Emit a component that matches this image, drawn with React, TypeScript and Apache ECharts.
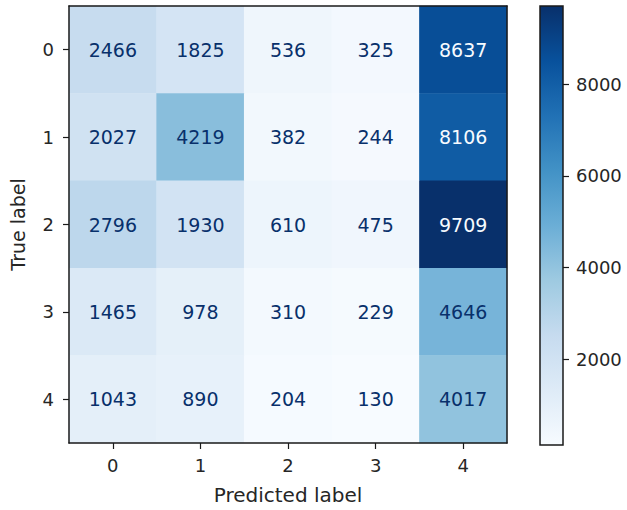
import React, { useEffect, useRef } from "react";
import * as echarts from "echarts";

// Confusion matrix: rows are the true class, columns the predicted class.
const predictedLabels = ["0", "1", "2", "3", "4"];
const trueLabels = ["0", "1", "2", "3", "4"];
const counts: number[][] = [
  [2466, 1825, 536, 325, 8637],
  [2027, 4219, 382, 244, 8106],
  [2796, 1930, 610, 475, 9709],
  [1465, 978, 310, 229, 4646],
  [1043, 890, 204, 130, 4017],
];
const colorbarTicks = [2000, 4000, 6000, 8000];

// matplotlib "Blues" colormap anchors
const bluesStops = [
  "#f7fbff",
  "#deebf7",
  "#c6dbef",
  "#9ecae1",
  "#6baed6",
  "#4292c6",
  "#2171b5",
  "#08519c",
  "#08306b",
];

const FONT = "DejaVu Sans";
const INK = "#262626";
const FRAME = "#1a1a1a";

export default function App() {
  const ref = useRef<HTMLDivElement>(null);

  useEffect(() => {
    document.body.style.margin = "0";
    if (!ref.current) return;
    const chart = echarts.init(ref.current, undefined, { renderer: "svg" });

    const flat = counts.flat();
    const minV = Math.min(...flat);
    const maxV = Math.max(...flat);
    const threshold = (minV + maxV) / 2;

    const cells = counts.flatMap((row, r) =>
      row.map((v, c) => ({
        value: [c, r, v],
        label: { color: v > threshold ? bluesStops[0] : bluesStops[8] },
      }))
    );

    const lineStyle = { color: FRAME, width: 1.5 };
    const tickStyle = { color: FRAME, width: 1.2 };

    const option: echarts.EChartsOption = {
      animation: false,
      textStyle: { fontFamily: FONT },
      grid: [
        { left: 68, top: 6, width: 439, height: 439 },
        { left: 540, top: 6, width: 23, height: 439 },
      ],
      xAxis: [
        {
          type: "category",
          gridIndex: 0,
          position: "bottom",
          data: predictedLabels,
          name: "Predicted label",
          nameLocation: "middle",
          nameGap: 42,
          nameTextStyle: { fontSize: 20, color: INK, fontFamily: FONT },
          axisLine: { show: true, lineStyle },
          axisTick: { show: true, alignWithLabel: true, length: 6, lineStyle: tickStyle },
          axisLabel: { fontSize: 18, color: INK, margin: 13, fontFamily: FONT },
          splitLine: { show: false },
          z: 5,
        },
        {
          type: "category",
          gridIndex: 0,
          position: "top",
          data: predictedLabels,
          axisLine: { show: true, lineStyle },
          axisTick: { show: false },
          axisLabel: { show: false },
          splitLine: { show: false },
          z: 5,
        },
        {
          type: "category",
          gridIndex: 1,
          data: ["colorbar"],
          show: false,
        },
      ],
      yAxis: [
        {
          type: "category",
          gridIndex: 0,
          position: "left",
          inverse: true,
          data: trueLabels,
          name: "True label",
          nameLocation: "middle",
          nameGap: 42,
          nameTextStyle: { fontSize: 19, color: INK, fontFamily: FONT },
          axisLine: { show: true, lineStyle },
          axisTick: { show: true, alignWithLabel: true, length: 6, lineStyle: tickStyle },
          axisLabel: { fontSize: 18, color: INK, margin: 15, fontFamily: FONT },
          splitLine: { show: false },
          z: 5,
        },
        {
          type: "category",
          gridIndex: 0,
          position: "right",
          inverse: true,
          data: trueLabels,
          axisLine: { show: true, lineStyle },
          axisTick: { show: false },
          axisLabel: { show: false },
          splitLine: { show: false },
          z: 5,
        },
        {
          type: "value",
          gridIndex: 1,
          position: "right",
          min: minV,
          max: maxV,
          axisLine: { show: false },
          axisTick: {
            show: true,
            length: 6,
            customValues: colorbarTicks,
            lineStyle: tickStyle,
          },
          axisLabel: {
            show: true,
            fontSize: 18,
            color: INK,
            margin: 13,
            fontFamily: FONT,
            customValues: colorbarTicks,
            formatter: (v: number) => String(v),
          },
          splitLine: { show: false },
        },
      ],
      visualMap: {
        type: "continuous",
        show: false,
        min: minV,
        max: maxV,
        seriesIndex: 0,
        dimension: 2,
        inRange: { color: bluesStops },
      },
      series: [
        {
          type: "heatmap",
          xAxisIndex: 0,
          yAxisIndex: 0,
          data: cells,
          label: { show: true, fontSize: 19, fontFamily: FONT },
          itemStyle: { borderWidth: 0 },
          emphasis: { disabled: true },
          silent: true,
        },
        {
          type: "custom",
          xAxisIndex: 2,
          yAxisIndex: 2,
          data: [[0, minV, maxV]],
          encode: { x: 0, y: [1, 2] },
          silent: true,
          renderItem: (params: any, api: any) => {
            const low = api.coord([api.value(0), api.value(1)]);
            const high = api.coord([api.value(0), api.value(2)]);
            const w = api.size([1, 0])[0];
            return {
              type: "rect",
              shape: { x: high[0] - w / 2, y: high[1], width: w, height: low[1] - high[1] },
              style: {
                fill: {
                  type: "linear",
                  x: 0,
                  y: 1,
                  x2: 0,
                  y2: 0,
                  colorStops: bluesStops.map((color, i) => ({
                    offset: i / (bluesStops.length - 1),
                    color,
                  })),
                },
                stroke: FRAME,
                lineWidth: 1.5,
              },
            };
          },
        },
      ],
    };

    chart.setOption(option);
    return () => chart.dispose();
  }, []);

  return <div ref={ref} style={{ width: 627, height: 510 }} />;
}
